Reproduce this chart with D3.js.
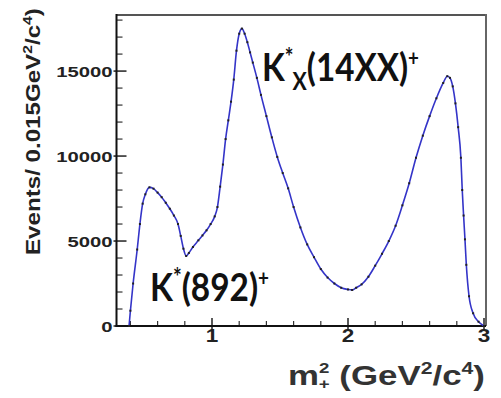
<!DOCTYPE html>
<html><head><meta charset="utf-8">
<script src="https://cdn.jsdelivr.net/npm/d3@7"></script>
<style>html,body{margin:0;padding:0;background:#fff;}svg{display:block;}</style>
</head><body>
<svg id="c" width="501" height="398"></svg>
<script>
const massSq = [0.39,0.40,0.42,0.45,0.47,0.49,0.51,0.54,0.57,0.60,0.63,0.66,0.69,0.72,0.75,0.77,0.79,0.81,0.83,0.86,0.90,0.93,0.96,0.99,1.02,1.04,1.06,1.08,1.10,1.12,1.14,1.16,1.18,1.20,1.22,1.24,1.26,1.28,1.30,1.33,1.36,1.40,1.44,1.48,1.52,1.56,1.60,1.65,1.70,1.75,1.80,1.85,1.90,1.95,2.00,2.03,2.06,2.10,2.15,2.20,2.25,2.30,2.35,2.40,2.45,2.50,2.55,2.60,2.65,2.70,2.73,2.75,2.77,2.79,2.81,2.83,2.84,2.85,2.86,2.87,2.89,2.92,2.96,3.00];
const events = [0,900,2500,4500,6000,7200,7750,8160,8080,7850,7580,7250,6900,6500,6000,5300,4550,4120,4300,4650,5040,5330,5630,6000,6450,7000,8200,9500,11000,12100,13200,14500,16200,17200,17500,17200,16700,16100,15500,14600,13600,12350,11100,9950,9000,8100,7000,5800,4800,4050,3350,2850,2500,2250,2150,2120,2250,2450,2900,3550,4250,5000,5900,7100,8400,9900,11200,12350,13400,14300,14700,14600,14100,13100,11700,9900,8000,6500,5100,3600,1750,750,250,0];
const xMajorTicks = [1,2,3];
const xMinorTicks = [0.4,0.6,0.8,1.2,1.4,1.6,1.8,2.2,2.4,2.6,2.8];
const yMajorTicks = [0,5000,10000,15000];
const yMinorTicks = [1000,2000,3000,4000,6000,7000,8000,9000,11000,12000,13000,14000,16000,17000,18000];

const svg = d3.select("#c");
const x = d3.scaleLinear().domain([0.3,3]).range([116.8,484]);
const y = d3.scaleLinear().domain([0,18300]).range([326,15]);
const L = 116.5, R = 486, T = 15, B = 326;

// frame
svg.append("line").attr("x1",L).attr("x2",R).attr("y1",T).attr("y2",T).attr("stroke","#555").attr("stroke-width",2);
svg.append("line").attr("x1",R).attr("x2",R).attr("y1",T-1).attr("y2",B).attr("stroke","#666").attr("stroke-width",2);

// y axis
const gy = svg.append("g");
gy.selectAll(".ymaj").data(yMajorTicks).join("line")
  .attr("x1",L-3).attr("x2",L+10).attr("y1",d=>y(d)).attr("y2",d=>y(d)).attr("stroke","#222").attr("stroke-width",1.5);
gy.selectAll(".ymin").data(yMinorTicks).join("line")
  .attr("x1",L).attr("x2",L+6).attr("y1",d=>y(d)).attr("y2",d=>y(d)).attr("stroke","#333").attr("stroke-width",1.2);
gy.selectAll("text").data(yMajorTicks).join("text")
  .attr("transform",d=>`translate(${L-4},${y(d)+5.5}) scale(1.35,1)`)
  .attr("text-anchor","end").attr("font-family","Liberation Sans, Arial, sans-serif").attr("font-weight","bold")
  .attr("font-size",15).attr("fill","#222").text(d=>d);

// x axis
const gx = svg.append("g");
gx.selectAll(".xmaj").data(xMajorTicks).join("line")
  .attr("x1",d=>x(d)).attr("x2",d=>x(d)).attr("y1",B-8).attr("y2",B+4).attr("stroke","#222").attr("stroke-width",1.5);
gx.selectAll(".xmin").data(xMinorTicks).join("line")
  .attr("x1",d=>x(d)).attr("x2",d=>x(d)).attr("y1",B-5).attr("y2",B).attr("stroke","#333").attr("stroke-width",1.2);
gx.selectAll("text").data(xMajorTicks).join("text")
  .attr("transform",d=>`translate(${x(d)},342) scale(1.25,1)`)
  .attr("text-anchor","middle").attr("font-family","Liberation Sans, Arial, sans-serif").attr("font-weight","bold")
  .attr("font-size",18).attr("fill","#222").text(d=>d);

// axis lines
svg.append("line").attr("x1",L).attr("x2",L).attr("y1",T-1).attr("y2",B+1).attr("stroke","#111").attr("stroke-width",2);
svg.append("line").attr("x1",L-1).attr("x2",R).attr("y1",B).attr("y2",B).attr("stroke","#111").attr("stroke-width",2);

// data
const pts = massSq.map((m,i)=>[m,events[i]]);
const line = d3.line().x(d=>x(d[0])).y(d=>y(d[1])).curve(d3.curveMonotoneX);
svg.append("path").attr("d",line(pts)).attr("fill","none").attr("stroke","#3434c8").attr("stroke-width",1.6);
svg.selectAll(".pt").data(pts).join("rect")
  .attr("x",d=>x(d[0])-1).attr("y",d=>y(d[1])-1).attr("width",2).attr("height",2).attr("fill","#222");

// fit helper
function fit(sel, x0, baseline, width){
  const w = sel.node().getBBox().width;
  const s = width / w;
  sel.attr("transform",`translate(${x0},${baseline}) scale(${s},1)`);
}

// annotations
const a1 = svg.append("text").attr("font-family","Lato, Open Sans, sans-serif").attr("font-weight","bold").attr("font-size",39).attr("fill","#111");
a1.append("tspan").text("K");
a1.append("tspan").attr("font-size",24).attr("dy",-15).text("*");
a1.append("tspan").attr("font-size",25).attr("dy",24).attr("dx",-1).text("X");
a1.append("tspan").attr("dy",-9).text("(14XX)");
a1.append("tspan").attr("font-size",22).attr("dy",-15).text("+");
fit(a1, 262, 81, 157);

const a2 = svg.append("text").attr("font-family","Lato, Open Sans, sans-serif").attr("font-weight","bold").attr("font-size",39).attr("fill","#111");
a2.append("tspan").text("K");
a2.append("tspan").attr("font-size",24).attr("dy",-15).text("*");
a2.append("tspan").attr("dy",15).text("(892)");
a2.append("tspan").attr("font-size",22).attr("dy",-15).text("+");
fit(a2, 150, 301, 119);

// x title
const xt = svg.append("text").attr("font-family","Liberation Sans, Arial, sans-serif").attr("font-weight","bold").attr("font-size",28).attr("fill","#333");
xt.append("tspan").text("m");
xt.append("tspan").attr("font-size",15).attr("dy",-12).text("2");
xt.append("tspan").attr("font-size",15).attr("dy",16).attr("dx",-8.5).text("+");
xt.append("tspan").attr("dy",-4).text(" (GeV");
xt.append("tspan").attr("font-size",17).attr("dy",-11).text("2");
xt.append("tspan").attr("dy",11).text("/c");
xt.append("tspan").attr("font-size",17).attr("dy",-11).text("4");
xt.append("tspan").attr("dy",11).text(")");
fit(xt, 288, 385, 197);

// y title
const yt = svg.append("text").attr("font-family","Liberation Sans, Arial, sans-serif").attr("font-weight","bold").attr("font-size",20).attr("fill","#222");
yt.append("tspan").text("Events/ 0.015GeV");
yt.append("tspan").attr("font-size",13).attr("dy",-8).text("2");
yt.append("tspan").attr("dy",8).text("/c");
yt.append("tspan").attr("font-size",13).attr("dy",-8).text("4");
yt.append("tspan").attr("dy",8).text(")");
{
  const w = yt.node().getBBox().width;
  const s = 247 / w;
  yt.attr("transform",`translate(40,255) rotate(-90) scale(${s},1)`);
}
</script>
</body></html>
